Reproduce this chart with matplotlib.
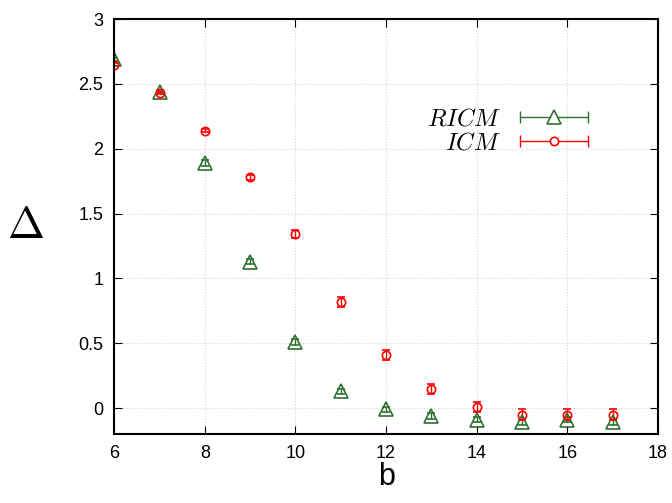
import matplotlib
matplotlib.use('Agg')
import matplotlib.pyplot as plt
from matplotlib.lines import Line2D
from matplotlib.legend_handler import HandlerLine2D, HandlerTuple

plt.rcParams['font.family'] = ['Liberation Sans', 'DejaVu Sans']
plt.rcParams['mathtext.fontset'] = 'cm'

b = [6, 7, 8, 9, 10, 11, 12, 13, 14, 15, 16, 17]
ricm = [2.69, 2.44, 1.89, 1.13, 0.51, 0.13, -0.01, -0.06, -0.09, -0.11, -0.09, -0.11]
ricm_err = [0.01, 0.01, 0.02, 0.02, 0.02, 0.02, 0.02, 0.02, 0.02, 0.02, 0.02, 0.02]
icm = [2.65, 2.43, 2.14, 1.78, 1.34, 0.82, 0.41, 0.15, 0.01, -0.05, -0.05, -0.05]
icm_err = [0.01, 0.01, 0.01, 0.02, 0.03, 0.04, 0.04, 0.04, 0.04, 0.04, 0.04, 0.04]

green = '#2e7030'
red = '#ff0000'

fig = plt.figure(figsize=(6.72, 5.03), dpi=100)
ax = fig.add_axes([0.17, 0.137, 0.809, 0.825])

ax.errorbar(b, ricm, yerr=ricm_err, fmt='^', mfc='none', mec=green, color=green,
            ms=10, mew=1.2, capsize=3, elinewidth=1)
ax.errorbar(b, icm, yerr=icm_err, fmt='o', mfc='none', mec=red, color=red,
            ms=6, mew=1.2, capsize=3, elinewidth=1)

ax.set_xlim(6, 18)
ax.set_ylim(-0.2, 3)
ax.set_xticks([6, 8, 10, 12, 14, 16, 18])
ax.set_yticks([0, 0.5, 1, 1.5, 2, 2.5, 3])
ax.set_yticklabels(['0', '0.5', '1', '1.5', '2', '2.5', '3'])
ax.grid(True, color='#d5d5d5', linestyle=':', linewidth=0.8)
ax.tick_params(direction='in', top=True, right=True, labelsize=13, length=6, pad=8)
for s in ax.spines.values():
    s.set_linewidth(1.5)

ax.set_xlabel('b', fontsize=22, labelpad=0)
ax.set_ylabel(r'$\Delta$', fontsize=32, rotation=0, labelpad=38, va='center')

# gnuplot-style legend keys: horizontal bar with end caps and a marker in the middle
handles = []
hmap = {}
for c, m, ms in [(green, '^', 10), (red, 'o', 6)]:
    bar = Line2D([0, 1], [0, 0], color=c, lw=1, marker='|', ms=8, mew=1)
    mk = Line2D([0], [0], linestyle='none', marker=m, mfc='white', mec=c, ms=ms, mew=1.2)
    hmap[bar] = HandlerLine2D(numpoints=2)
    hmap[mk] = HandlerLine2D(numpoints=1)
    handles.append((bar, mk))
hmap[tuple] = HandlerTuple(ndivide=1, pad=0)

ax.legend(handles, ['$RICM$', '$ICM$'], handler_map=hmap, loc='upper right',
          bbox_to_anchor=(0.925, 0.838), frameon=False, markerfirst=False,
          fontsize=17.5, handlelength=3.4, labelspacing=0.1, handletextpad=0.5)

fig.savefig('out.png', dpi=100)
